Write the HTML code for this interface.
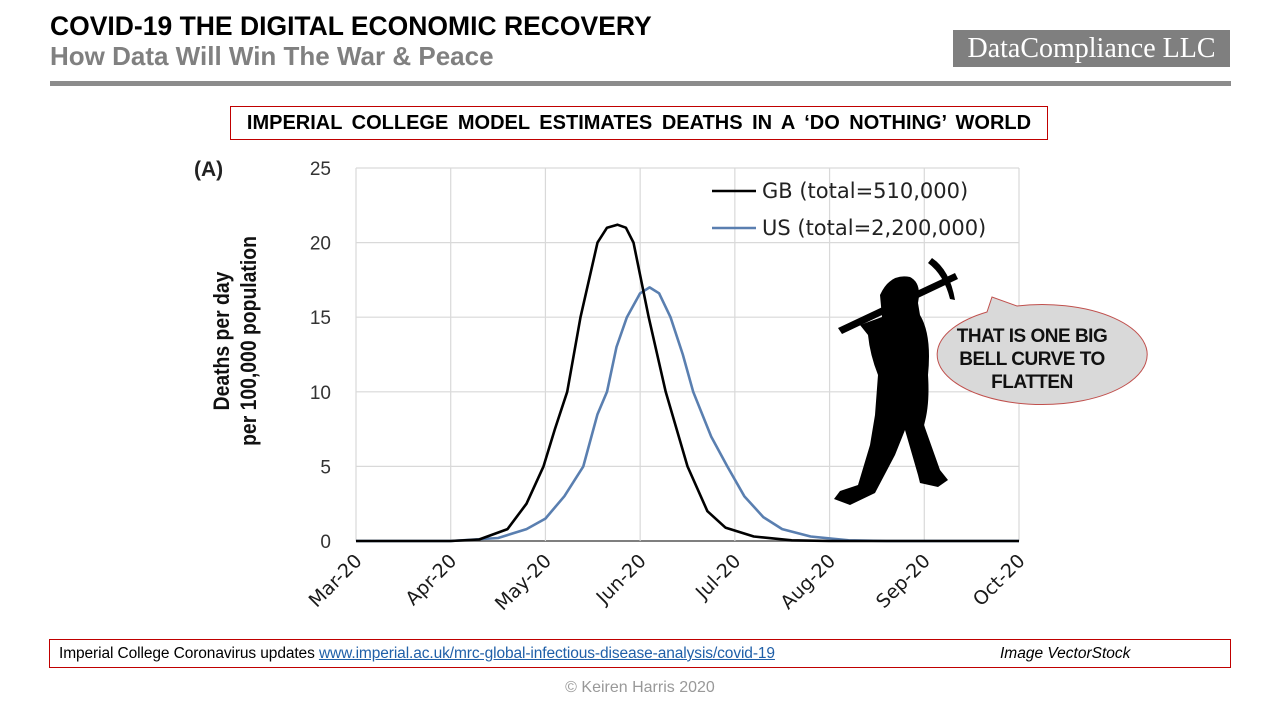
<!DOCTYPE html>
<html><head><meta charset="utf-8"><style>
html,body{margin:0;padding:0;background:#fff;}
body{width:1280px;height:720px;position:relative;overflow:hidden;font-family:"Liberation Sans",Arial,sans-serif;}
.abs{position:absolute;}
</style></head><body>
<div class="abs" style="left:50px;top:11px;font-size:26.5px;font-weight:bold;color:#000;">COVID-19 THE DIGITAL ECONOMIC RECOVERY</div>
<div class="abs" style="left:50px;top:41px;font-size:26px;font-weight:bold;color:#808080;">How Data Will Win The War &amp; Peace</div>
<div class="abs" style="left:953px;top:30px;width:277px;height:37px;background:#7f7f7f;color:#fff;font-family:'Liberation Serif',serif;font-size:28px;line-height:37px;text-align:center;">DataCompliance LLC</div>
<div class="abs" style="left:50px;top:81px;width:1181px;height:5px;background:#8c8c8c;"></div>
<div class="abs" style="left:230px;top:106px;width:818px;height:34px;border:1px solid #c00000;box-sizing:border-box;font-size:20px;font-weight:bold;line-height:32px;text-align:center;word-spacing:4px;white-space:nowrap;">IMPERIAL COLLEGE MODEL ESTIMATES DEATHS IN A ‘DO NOTHING’ WORLD</div>

<svg class="abs" style="left:0;top:0" width="1280" height="720" id="chart">
<g id="grid"></g><g id="series"></g><g id="labels"></g>
</svg>

<div class="abs" style="left:194px;top:158px;font-size:21px;font-weight:bold;color:#222;">(A)</div>
<div class="abs" style="left:235px;top:340px;width:0;height:0;">
 <div style="position:absolute;left:-150px;top:-26px;width:300px;text-align:center;transform:rotate(-90deg) scaleX(0.88);font-size:22px;font-weight:bold;line-height:27px;color:#111;">Deaths per day<br>per 100,000 population</div>
</div>

<svg class="abs" style="left:820px;top:255px" width="340" height="260">
 <path d="M18,73 L135,18 L138,24 L22,79 Z" fill="#000"/>
 <path d="M112,3 Q130,15 135,45 L130,44 Q124,20 108,8 Z" fill="#000"/>
 <path d="M60,40 Q70,18 90,22 Q102,28 98,48 L100,60 Q112,80 108,120 Q110,150 104,170 L120,215 L128,225 L118,232 L100,228 L98,220 L85,175 L75,200 L55,238 L30,250 L14,244 L20,236 L38,230 L50,190 L55,160 L58,120 Q50,100 48,80 L40,70 L62,62 Z" fill="#000"/>
 <path d="M68,60 Q80,72 72,90 L64,86 Q70,72 62,65 Z" fill="#000"/>
</svg>

<svg class="abs" style="left:922px;top:290px" width="230" height="125">
 <path d="M65,22 L70,7 L95,16 A105,50 0 1 1 65,22 Z" fill="#d9d9d9" stroke="#c0504d" stroke-width="1"/>
</svg>
<div class="abs" style="left:937px;top:325px;width:190px;text-align:center;font-size:19px;font-weight:bold;line-height:23px;color:#111;letter-spacing:-0.5px;">THAT IS ONE BIG<br>BELL CURVE TO<br>FLATTEN</div>

<div class="abs" style="left:49px;top:639px;width:1182px;height:29px;border:1px solid #c00000;box-sizing:border-box;font-size:15.5px;line-height:27px;">
 <span style="position:absolute;left:9px;letter-spacing:-0.1px;">Imperial College Coronavirus updates <a style="color:#1f5fa8;text-decoration:underline;">www.imperial.ac.uk/mrc-global-infectious-disease-analysis/covid-19</a></span>
 <span style="position:absolute;left:950px;font-style:italic;">Image VectorStock</span>
</div>
<div class="abs" style="left:0;width:1280px;top:679px;text-align:center;font-size:16px;color:#999;">© Keiren Harris 2020</div>

<script>
const monthLabels=["Mar-20","Apr-20","May-20","Jun-20","Jul-20","Aug-20","Sep-20","Oct-20"];
const yTicks=[0,5,10,15,20,25];
const gbX=[0,1,1.3,1.6,1.8,1.98,2.1,2.23,2.37,2.55,2.65,2.76,2.85,2.93,3.09,3.27,3.5,3.71,3.9,4.2,4.6,5,7];
const gbY=[0,0,0.1,0.8,2.5,5,7.5,10,15,20,21,21.2,21,20,15,10,5,2,0.9,0.3,0.05,0,0];
const usX=[0,1,1.5,1.8,2,2.2,2.4,2.55,2.65,2.75,2.86,3,3.1,3.2,3.32,3.45,3.56,3.75,3.92,4.1,4.3,4.5,4.8,5.2,5.6,7];
const usY=[0,0,0.2,0.8,1.5,3,5,8.5,10,13,15,16.6,17,16.6,15,12.5,10,7,5,3,1.6,0.8,0.3,0.05,0,0];
const legendNames=["GB (total=510,000)","US (total=2,200,000)"];
const NS="http://www.w3.org/2000/svg";
const x0=356,x1=1019,y0=541,y1=168;
const xs=v=>x0+(x1-x0)*v/7;
const ys=v=>y0-(y0-y1)*v/25;
function mk(tag,attrs,parent){const e=document.createElementNS(NS,tag);for(const k in attrs)e.setAttribute(k,attrs[k]);parent.appendChild(e);return e;}
const grid=document.getElementById('grid'),ser=document.getElementById('series'),lab=document.getElementById('labels');
yTicks.forEach(t=>{
 const l=mk('line',{x1:x0,x2:x1,y1:ys(t),y2:ys(t),stroke:t===0?'#555':'#d9d9d9','stroke-width':t===0?1.5:1.2},grid);
 
 
 const tx=mk('text',{x:331,y:ys(t)+7,'text-anchor':'end','font-size':19,fill:'#333','font-family':'Liberation Sans, sans-serif'},lab);
 tx.textContent=t;
 
 
});
monthLabels.forEach((m,i)=>{
 const l=mk('line',{x1:xs(i),x2:xs(i),y1:y1,y2:y0,stroke:'#d9d9d9','stroke-width':1.2},grid);
 
 
 const ax=xs(i)+7, ay=562;
 const tx=mk('text',{x:ax,y:ay,'text-anchor':'end','font-size':19,fill:'#1a1a1a','font-family':'DejaVu Sans, sans-serif',transform:`rotate(-45 ${ax} ${ay})`},lab);
 tx.textContent=m;
 
 
});
function line(xa,ya,col,name){
 const d=xa.map((v,i)=>(i?'L':'M')+xs(v).toFixed(1)+','+ys(ya[i]).toFixed(1)).join(' ');
 const p=mk('path',{d:d,fill:'none',stroke:col,'stroke-width':2.6,'stroke-linejoin':'round'},ser);
 
 
}
line(usX,usY,'#5a7fb0','us-series-line');
line(gbX,gbY,'#000','gb-series-line');
[['#000',191],['#5a7fb0',228]].forEach((c,i)=>{
 const l=mk('line',{x1:712,x2:756,y1:c[1],y2:c[1],stroke:c[0],'stroke-width':2.6},lab);
 
 
 const t=mk('text',{x:762,y:c[1]+7,'font-size':21,fill:'#222','font-family':'DejaVu Sans, sans-serif'},lab);
 t.textContent=legendNames[i];
 
 
});
</script>
</body></html>
